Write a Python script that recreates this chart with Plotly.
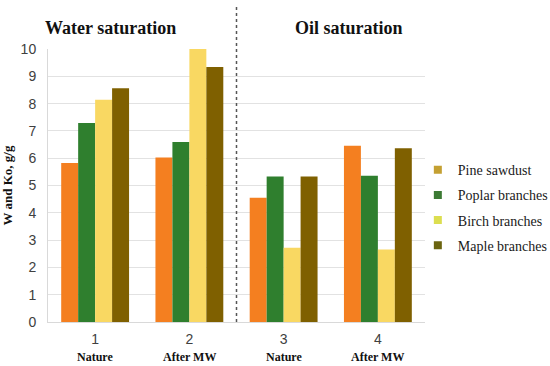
import plotly.graph_objects as go

categories = ["1", "2", "3", "4"]
group_labels = ["Nature", "After MW", "Nature", "After MW"]
series_names = ["Pine sawdust", "Poplar branches", "Birch branches", "Maple branches"]
pine = [5.82, 6.03, 4.55, 6.46]
poplar = [7.29, 6.59, 5.33, 5.36]
birch = [8.14, 10.0, 2.72, 2.66]
maple = [8.56, 9.34, 5.33, 6.36]
y_ticks = list(range(0, 11))

bar_colors = ["#F47F20", "#2F7F2E", "#F9D862", "#7F6000"]
legend_colors = ["#C4A032", "#3C7A34", "#DCDE50", "#6B6410"]
values = [pine, poplar, birch, maple]

fig = go.Figure()
for name, vals, col in zip(series_names, values, bar_colors):
    fig.add_trace(go.Bar(x=categories, y=vals, name=name, marker=dict(color=col, line=dict(width=0)),
                         showlegend=False))
for i, (name, col) in enumerate(zip(series_names, legend_colors)):
    fig.add_trace(go.Scatter(x=[None], y=[None], mode="markers", name=name, legendgroup=f"g{i}",
                             marker=dict(symbol="square", size=8, color=col)))

serif = "Liberation Serif"
sans = "Liberation Sans"

fig.update_layout(
    width=550, height=366,
    margin=dict(l=48, r=125, t=49, b=44, autoexpand=False),
    paper_bgcolor="white", plot_bgcolor="white",
    barmode="group", bargap=0.28, bargroupgap=0,
    showlegend=True,
    legend=dict(x=0.981, xanchor="left", y=0.615, yanchor="top",
                font=dict(family=serif, size=14, color="#1a1a1a"),
                tracegroupgap=4, itemwidth=30, bgcolor="rgba(0,0,0,0)"),
    xaxis=dict(type="category", range=[-0.5, 3.5], showgrid=False, automargin=False,
               showline=True, linecolor="#D9D9D9", linewidth=1,
               ticks="outside", ticklen=4, tickcolor="rgba(0,0,0,0)",
               tickfont=dict(family=sans, size=14, color="#404040")),
    yaxis=dict(range=[0, 10], tickvals=y_ticks, showgrid=True, gridcolor="#E2E2E2", gridwidth=1,
               showline=True, linecolor="#D9D9D9", linewidth=1, zeroline=False, automargin=False,
               ticks="outside", ticklen=8, tickcolor="rgba(0,0,0,0)",
               tickfont=dict(family=sans, size=14, color="#404040"),
               title=dict(text="<b>W and Ko, g/g</b>", font=dict(family=serif, size=13, color="#111"),
                          standoff=6)),
    shapes=[dict(type="line", xref="x", x0=1.5, x1=1.5, yref="paper", y0=0, y1=1.161,
                 line=dict(color="#555555", width=1.5, dash="3px,3px"))],
)

annotations = [
    dict(text="<b>Water saturation</b>", x=0.167, y=1.077, xref="paper", yref="paper",
         showarrow=False, font=dict(family=serif, size=18, color="#111"), xanchor="center", yanchor="middle"),
    dict(text="<b>Oil saturation</b>", x=0.798, y=1.077, xref="paper", yref="paper",
         showarrow=False, font=dict(family=serif, size=18, color="#111"), xanchor="center", yanchor="middle"),
]
for i, lab in enumerate(group_labels):
    annotations.append(dict(text=f"<b>{lab}</b>", x=i, xref="x", y=-0.128, yref="paper",
                            showarrow=False, font=dict(family=serif, size=12, color="#111"),
                            xanchor="center", yanchor="middle"))
fig.update_layout(annotations=annotations)

fig.write_html("out.html", config={"displayModeBar": False},
               post_script="document.body.style.margin='0px';")
